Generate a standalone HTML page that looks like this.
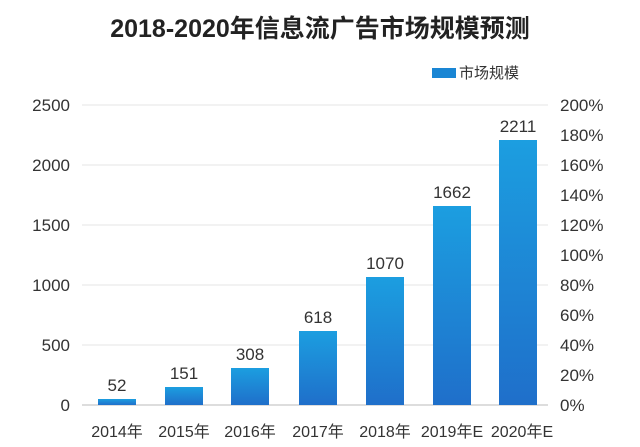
<!DOCTYPE html>
<html><head><meta charset="utf-8"><style>
body{margin:0;background:#fff;}
svg text{font-family:"Liberation Sans","Noto Sans CJK SC",sans-serif;}
</style></head><body>
<svg width="640" height="442" viewBox="0 0 640 442" xmlns="http://www.w3.org/2000/svg">
<defs><linearGradient id="g" x1="0" y1="0" x2="0" y2="1"><stop offset="0" stop-color="#1c9ee0"/><stop offset="1" stop-color="#1f6fca"/></linearGradient></defs>
<rect width="640" height="442" fill="#fff"/>
<text x="320" y="37" text-anchor="middle" font-size="25" font-weight="bold" fill="#222">2018-2020年信息流广告市场规模预测</text>
<rect x="432" y="68" width="24" height="10" fill="#1a86d4"/>
<text x="459" y="78" font-size="15" fill="#333">市场规模</text>
<g stroke="#e4e4e4" stroke-width="1">
<line x1="82" y1="105" x2="548" y2="105"/><line x1="82" y1="165" x2="548" y2="165"/><line x1="82" y1="225" x2="548" y2="225"/><line x1="82" y1="285" x2="548" y2="285"/><line x1="82" y1="345" x2="548" y2="345"/>
</g>
<line x1="82" y1="405" x2="548" y2="405" stroke="#bbb"/>
<g font-size="17" fill="#333" text-anchor="end">
<text x="70" y="111">2500</text><text x="70" y="171">2000</text><text x="70" y="231">1500</text><text x="70" y="291">1000</text><text x="70" y="351">500</text><text x="70" y="411">0</text>
</g>
<g font-size="17" fill="#333">
<text x="560" y="111">200%</text><text x="560" y="141">180%</text><text x="560" y="171">160%</text><text x="560" y="201">140%</text><text x="560" y="231">120%</text><text x="560" y="261">100%</text><text x="560" y="291">80%</text><text x="560" y="321">60%</text><text x="560" y="351">40%</text><text x="560" y="381">20%</text><text x="560" y="411">0%</text>
</g>
<g fill="url(#g)">
<rect x="98" y="399" width="38" height="6"/>
<rect x="165" y="387" width="38" height="18"/>
<rect x="231" y="368" width="38" height="37"/>
<rect x="299" y="331" width="38" height="74"/>
<rect x="366" y="277" width="38" height="128"/>
<rect x="433" y="206" width="38" height="199"/>
<rect x="499" y="140" width="38" height="265"/>
</g>
<g font-size="17" fill="#333" text-anchor="middle">
<text x="117" y="391">52</text><text x="184" y="379">151</text><text x="250" y="360">308</text><text x="318" y="323">618</text><text x="385" y="269">1070</text><text x="452" y="198">1662</text><text x="518" y="132">2211</text>
</g>
<g font-size="16" fill="#333" text-anchor="middle">
<text x="117" y="437">2014年</text><text x="184" y="437">2015年</text><text x="250" y="437">2016年</text><text x="318" y="437">2017年</text><text x="385" y="437">2018年</text><text x="452" y="437">2019年E</text><text x="522" y="437">2020年E</text>
</g>
</svg>
</body></html>
